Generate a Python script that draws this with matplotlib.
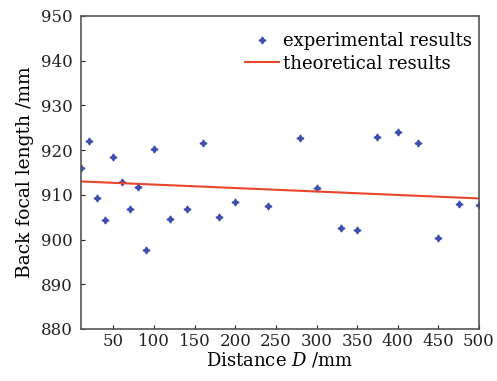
import matplotlib
matplotlib.use('Agg')
import matplotlib.pyplot as plt

plt.rcParams['font.family'] = ['DejaVu Serif']
plt.rcParams['mathtext.fontset'] = 'dejavuserif'

# experimental data
dist = [10, 20, 30, 40, 50, 60, 70, 80, 90, 100, 120, 140, 160, 180, 200,
        240, 280, 300, 330, 350, 375, 400, 425, 450, 475, 500]
bfl = [916.1, 922.1, 909.3, 904.4, 918.4, 912.9, 906.8, 911.7, 897.7, 920.2,
       904.7, 906.8, 921.5, 905.0, 908.5, 907.5, 922.8, 911.5, 902.5, 902.1,
       922.9, 924.1, 921.7, 900.3, 907.9, 907.7]

# theoretical line
theo_x = [10, 500]
theo_y = [913.0, 909.2]

xticks = [50, 100, 150, 200, 250, 300, 350, 400, 450, 500]
yticks = [880, 890, 900, 910, 920, 930, 940, 950]

fig = plt.figure(figsize=(4.97, 3.81), dpi=100)
ax = fig.add_axes([81 / 497, 1 - 329 / 381, (479 - 81) / 497, (329 - 16) / 381])

ax.plot(dist, bfl, linestyle='none', marker=(4, 1, 0), markersize=5,
        color='#3e4fae', label='experimental results')
ax.plot(theo_x, theo_y, color='#e8462a', lw=1.5, label='theoretical results')

ax.set_xlim(10, 500)
ax.set_ylim(880, 950)
ax.set_xticks(xticks)
ax.set_yticks(yticks)
ax.tick_params(direction='in', labelsize=12, colors='#222222', length=3, pad=3)
ax.tick_params(axis='y', pad=6)
for s in ax.spines.values():
    s.set_color('#555555')
    s.set_linewidth(1.2)

ax.set_xlabel('Distance $D$ /mm', fontsize=13, labelpad=0)
ax.set_ylabel('Back focal length /mm', fontsize=13.5, labelpad=5)

ax.legend(loc='upper right', bbox_to_anchor=(1.0, 0.971), frameon=False,
          fontsize=13, handlelength=1.9, handletextpad=0.2,
          borderaxespad=0.1, labelspacing=0.25, borderpad=0.3)

fig.savefig('out.png', dpi=100)
